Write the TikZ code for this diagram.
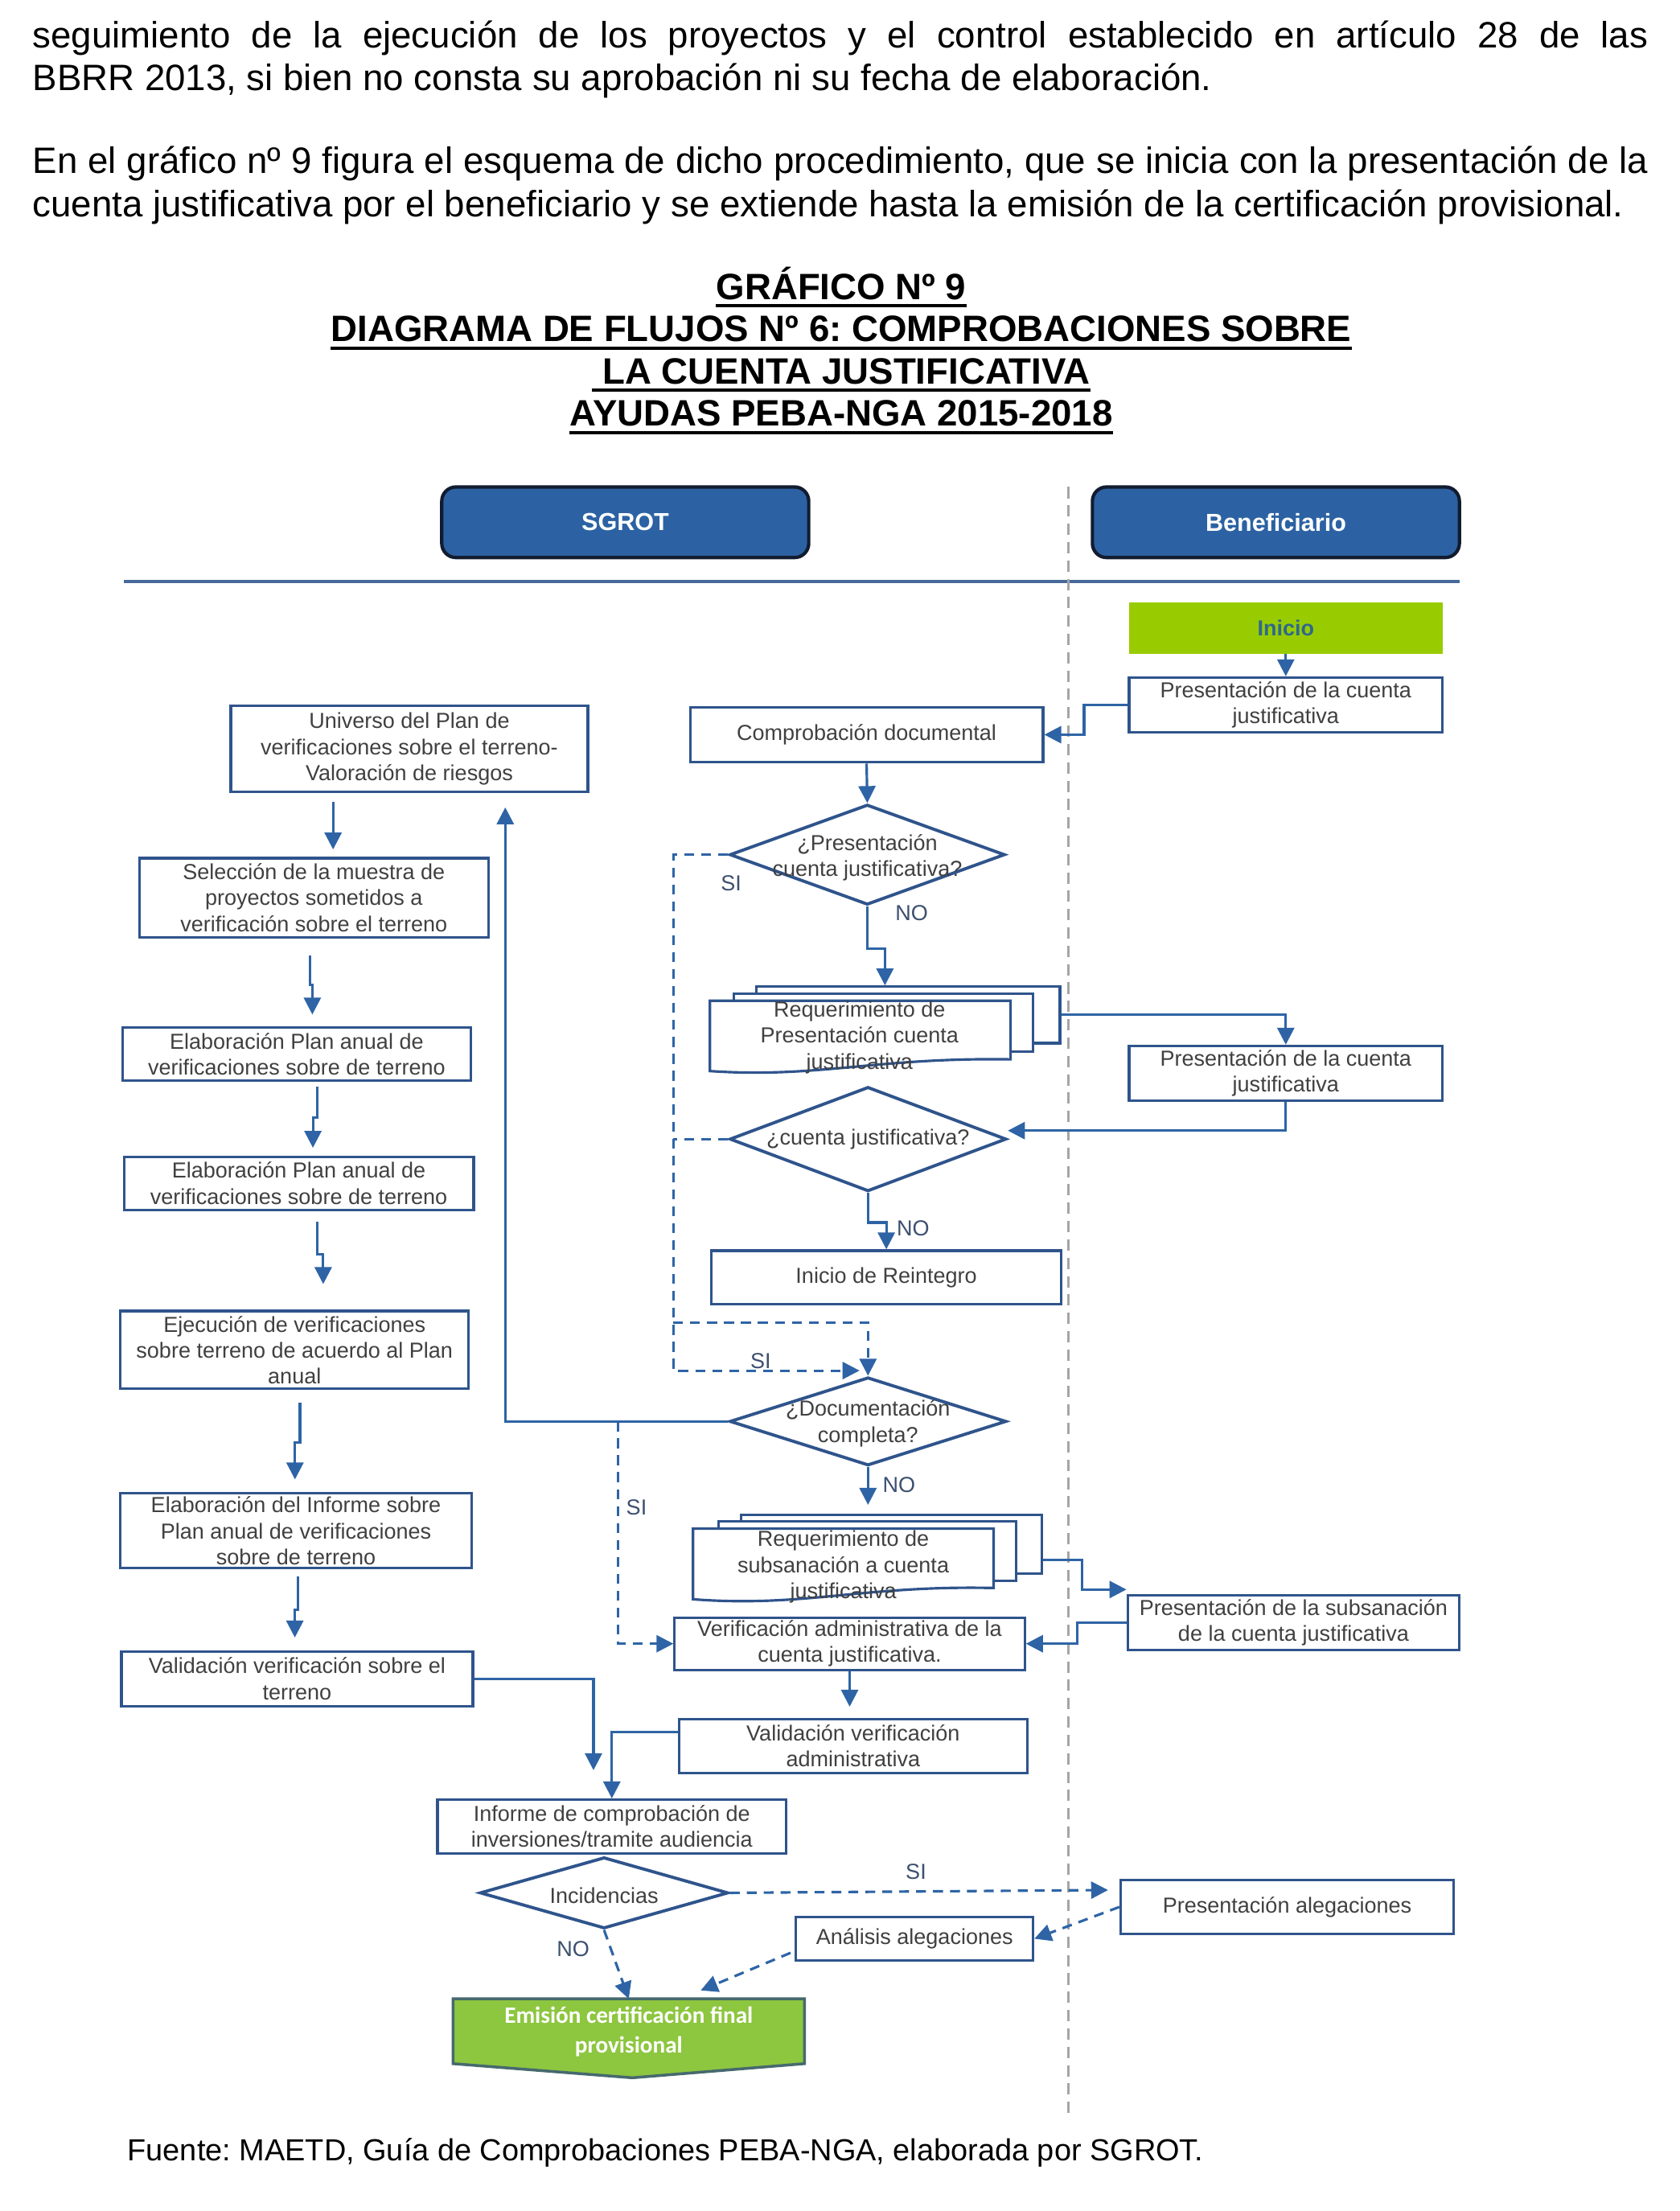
\documentclass[tikz,border=0pt]{standalone}
\usepackage{fontspec}
\setmainfont{Liberation Sans}
\newfontfamily\calfont{Carlito}
\usetikzlibrary{arrows.meta,calc,shapes.geometric}
\definecolor{lblue}{RGB}{46,100,165}
\definecolor{bblue}{RGB}{47,84,140}
\definecolor{hblue}{RGB}{44,98,163}
\definecolor{hedge}{RGB}{18,28,48}
\definecolor{tgrey}{RGB}{64,64,64}
\definecolor{lbgrey}{RGB}{60,80,112}
\definecolor{inigreen}{RGB}{153,204,0}
\definecolor{initext}{RGB}{46,105,140}
\definecolor{emgreen}{RGB}{141,198,63}
\definecolor{emedge}{RGB}{70,105,110}
\definecolor{vgrey}{RGB}{165,165,165}
\definecolor{hlinec}{RGB}{70,105,155}
\frenchspacing
\begin{document}
\begin{tikzpicture}[x=0.5pt,y=-0.5pt,
  box/.style={draw=bblue, line width=0.9pt, fill=white, text=tgrey, font=\fontsize{7.7}{9.2}\selectfont, align=center, inner sep=0pt},
  dia/.style={draw=bblue, line width=1.1pt, shape=diamond, inner sep=0pt, fill=white},
  lbl/.style={text=tgrey, font=\fontsize{7.7}{9.2}\selectfont, align=center, inner sep=0pt},
  yn/.style={text=lbgrey, font=\fontsize{7.7}{9.2}\selectfont, inner sep=0pt},
  hdr/.style={draw=hedge, line width=1.2pt, fill=hblue, rounded corners=5pt, text=white, font=\fontsize{8.7}{10}\selectfont\bfseries, inner sep=0pt, minimum width=130pt, minimum height=25pt},
  arr/.style={draw=lblue, line width=0.9pt, -{Triangle[length=6pt,width=6pt]}},
  dsh/.style={draw=lblue, line width=0.9pt, dash pattern=on 3.5pt off 2.5pt},
  darr/.style={dsh, -{Triangle[length=6pt,width=6pt]}},
  body/.style={inner sep=0pt, anchor=base west, font=\fontsize{13}{15}\selectfont},
  ttl/.style={inner sep=0pt, anchor=base, font=\fontsize{13}{15}\selectfont\bfseries},
  uline/.style={line width=1.1pt},
]
\fill[white] (0,0) rectangle (1190.3,1566.4);
\useasboundingbox (0,0) rectangle (1190.3,1566.4);

% body text
\node[body] (p1) at (22.8,34) {\makebox[572.3pt][s]{seguimiento de la ejecución de los proyectos y el control establecido en artículo 28 de las}};
\node[body] (p2) at (22.8,64) {BBRR 2013, si bien no consta su aprobación ni su fecha de elaboración.};
\node[body] (p3) at (22.8,123) {\makebox[572.3pt][s]{En el gráfico nº 9 figura el esquema de dicho procedimiento, que se inicia con la presentación de la}};
\node[body] (p4) at (22.8,153.5) {cuenta justificativa por el beneficiario y se extiende hasta la emisión de la certificación provisional.};

% title
\node[ttl] (t1) at (596,212) {GRÁFICO Nº 9};
\node[ttl] (t2) at (596,242) {DIAGRAMA DE FLUJOS Nº 6: COMPROBACIONES SOBRE};
\node[ttl] (t3) at (596,272) {\ LA CUENTA JUSTIFICATIVA};
\node[ttl] (t4) at (596,302) {AYUDAS PEBA-NGA 2015-2018};
\foreach \t in {t1,t2,t3,t4}{
  \draw[uline] ([yshift=-2.3pt]\t.base west) -- ([yshift=-2.3pt]\t.base east);
}

% lanes
\node[hdr] (sgrot) at (443,370) {SGROT};
\node[hdr] (benef) at (904,370) {Beneficiario};
\draw[hlinec, line width=1.3pt] (88,412) -- (1034,412);
\draw[vgrey, line width=0.8pt, dash pattern=on 4pt off 2.5pt] (757,345) -- (757,1497.6);

% beneficiary start
\node[fill=inigreen, minimum width=111pt, minimum height=18pt, inner sep=0pt, text=initext, font=\fontsize{7.7}{9}\selectfont\bfseries] (inicio) at (911,445) {Inicio};
\node[box, minimum width=111pt, minimum height=19.5pt] (pres1) at (911,499.5) {Presentación de la cuenta\\justificativa};
\draw[arr] (inicio.south) -- (pres1.north);

% comprobacion
\node[box, minimum width=125pt, minimum height=19.5pt] (comp) at (614,520.5) {Comprobación documental};
\draw[arr] (pres1.west) -- ++(-31,0) |- (comp.east);

\node[dia, minimum width=97.5pt, minimum height=35.5pt] (d1) at (614.5,605.5) {};
\node[lbl] (d1t) at (614.5,607.5) {¿Presentación\\cuenta justificativa?};
\draw[arr] (comp.south) -- (d1.north);
\node[yn] at (518,626) {SI};
\node[yn] at (646,647) {NO};

% stack 1
\node[box, minimum width=107.5pt, minimum height=20pt] (req1back) at (643.5,719) {};
\node[box, minimum width=106pt, minimum height=20.5pt] (req1mid) at (626,724.5) {};
\draw[draw=bblue, line width=0.9pt, fill=white] (503,709) -- (716,709) -- (716,750.5) .. controls (620,749) and (580,764) .. (503,758.8) -- cycle;
\node[lbl] (req1) at (609,735) {Requerimiento de\\Presentación cuenta\\justificativa};
\draw[arr] (d1.south) -- ++(0,30) -| ($(req1back.north)+(-16.5,0)$);

\node[box, minimum width=111pt, minimum height=19.5pt] (pres2) at (911,760.5) {Presentación de la cuenta\\justificativa};
\draw[arr] (req1back.east) -| (pres2.north);

\node[dia, minimum width=98pt, minimum height=37pt] (d2) at (615,807) {};
\node[lbl] (d2t) at (615,807) {¿cuenta justificativa?};
\draw[arr] (pres2.south) |- ($(d2.east)+(0,-6)$);

\node[box, minimum width=124pt, minimum height=19pt] (reint) at (628,905) {Inicio de Reintegro};
\draw[arr] (d2.south) -- ++(0,21) -| (reint.north);
\node[yn] at (647,870) {NO};

\node[dia, minimum width=98pt, minimum height=31.25pt] (d3) at (615,1007) {};
\node[lbl] (d3t) at (615,1008.5) {¿Documentación\\completa?};

% dashed SI paths
\coordinate (sx) at (477,0);
\coordinate (sib) at (609,971);
\coordinate (sj) at (477,937);
\draw[darr] (d1.west) -| (sx |- sib) -- (sib);
\draw[dsh] (d2.west) -- (d2.west -| sx);
\draw[darr] (sj) -| (d3.north);
\node[yn] at (539,964) {SI};

% stack 2
\node[box, minimum width=106.5pt, minimum height=21pt] (req2back) at (631.5,1094) {};
\node[box, minimum width=105.5pt, minimum height=21pt] (req2mid) at (614.5,1099) {};
\draw[draw=bblue, line width=0.9pt, fill=white] (491,1083) -- (704,1083) -- (704,1125) .. controls (610,1123) and (570,1139) .. (491,1133) -- cycle;
\node[lbl] (req2) at (597.5,1110) {Requerimiento de\\subsanación a cuenta\\justificativa};
\draw[arr, shorten >=3pt] (d3.south) -- (d3.south |- req2back.north);
\node[yn] at (637,1052) {NO};

\node[box, minimum width=117.5pt, minimum height=19.5pt] (pres3) at (916.5,1149.5) {Presentación de la subsanación\\de la cuenta justificativa};
\draw[arr] ($(req2back.east)+(0,11)$) -- ++(28,0) |- ($(pres3.north west)+(0,-3)$);

\node[box, minimum width=124pt, minimum height=18.5pt] (verif) at (602,1164.5) {Verificación administrativa de la\\cuenta justificativa.};
\draw[arr] (pres3.west) -- ++(-35,0) |- (verif.east);
\draw[darr] ($(d3.west)+(-78,0)$) |- (verif.west);
\node[yn] at (451,1068) {SI};

\node[box, minimum width=123.5pt, minimum height=19pt] (valadm) at (604.5,1237) {Validación verificación\\administrativa};
\draw[arr, shorten >=4pt] (verif.south) -- (verif.south |- valadm.north);

\node[box, minimum width=123.5pt, minimum height=19pt] (informe) at (433.5,1294) {Informe de comprobación de\\inversiones/tramite audiencia};
\draw[arr] ($(valadm.west)+(0,-10)$) -| (informe.north);

% left column
\node[box, minimum width=126.5pt, minimum height=30.5pt] (univ) at (290,530.5) {Universo del Plan de\\verificaciones sobre el terreno-\\Valoración de riesgos};
\coordinate (uin) at (358,572);
\draw[arr] (d3.west) -| (uin);

\node[box, minimum width=123.55pt, minimum height=28pt] (selec) at (222.4,636) {Selección de la muestra de\\proyectos sometidos a\\verificación sobre el terreno};
\node[box, minimum width=123.35pt, minimum height=18.85pt] (elab1) at (210.2,746.9) {Elaboración Plan anual de\\verificaciones sobre de terreno};
\node[box, minimum width=123.9pt, minimum height=18.75pt] (elab2) at (211.7,838.3) {Elaboración Plan anual de\\verificaciones sobre de terreno};
\node[box, minimum width=123.35pt, minimum height=27.6pt] (ejec) at (208.7,956.4) {Ejecución de verificaciones\\sobre terreno de acuerdo al Plan\\anual};
\node[box, minimum width=124.35pt, minimum height=26.5pt] (elabinf) at (209.7,1084.5) {Elaboración del Informe sobre\\Plan anual de verificaciones\\sobre de terreno};
\node[box, minimum width=124.5pt, minimum height=19.3pt] (valterr) at (210.5,1189.3) {Validación verificación sobre el\\terreno};

\draw[arr] ([xshift=-27pt,yshift=-3pt]univ.south) -- ([xshift=6.8pt,yshift=2.65pt]selec.north);
\draw[arr] ([xshift=-1.45pt,yshift=-6pt]selec.south) -- ++(0,20.8) -| ([xshift=5.55pt,yshift=4.2pt]elab1.north);
\draw[arr] ([xshift=7.3pt,yshift=-1.65pt]elab1.south) -- ++(0,22) -| ([xshift=5pt,yshift=2.75pt]elab2.north);
\draw[arr] ([xshift=6.55pt,yshift=-3.75pt]elab2.south) -- ++(0,23.2) -| ([xshift=10.15pt,yshift=9.1pt]ejec.north);
\draw[arr] ([xshift=1.9pt,yshift=-4.5pt]ejec.south) -- ++(0,28) -| ([xshift=-0.35pt,yshift=4.5pt]elabinf.north);
\draw[arr] ([xshift=0.65pt,yshift=-2.5pt]elabinf.south) -- ++(0,23.4) -| ([xshift=-0.8pt,yshift=4.5pt]valterr.north);
\draw[arr] (valterr.east) -| ($(informe.north)+(-13,-20)$);

% incidencias
\node[dia, minimum width=88pt, minimum height=25.25pt] (incid) at (428,1341) {};
\node[lbl] (incidt) at (428,1343) {Incidencias};

\node[box, minimum width=118pt, minimum height=19pt] (presaleg) at (912,1351) {Presentación alegaciones};
\node[box, minimum width=84pt, minimum height=15.5pt] (analeg) at (648,1373.5) {Análisis alegaciones};

\draw[draw=emedge, line width=1pt, fill=emgreen] (321,1416) -- (570,1416) -- (570,1462) -- (448,1472) -- (321,1462) -- cycle;
\node[inner sep=0pt, minimum width=124.5pt, minimum height=23pt, text=white, font=\calfont\bfseries\fontsize{8.3}{10.5}\selectfont, align=center] (emis) at (445.5,1439.5) {Emisión certificación final\\provisional};

\draw[darr] (incid.east) -- ($(presaleg.west)+(-8,-12)$);
\node[yn] at (649,1326) {SI};
\draw[darr] (presaleg.west) -- (analeg.east);
\draw[darr] ($(analeg.west)+(-3,10)$) -- ($(emis.north)+(51,-6)$);
\draw[darr] (incid.south) -- (emis.north);
\node[yn] at (406,1381) {NO};

% source
\node[body, font=\fontsize{10.8}{13}\selectfont] (fuente) at (90,1531) {Fuente: MAETD, Guía de Comprobaciones PEBA-NGA, elaborada por SGROT.};
\end{tikzpicture}
\end{document}
